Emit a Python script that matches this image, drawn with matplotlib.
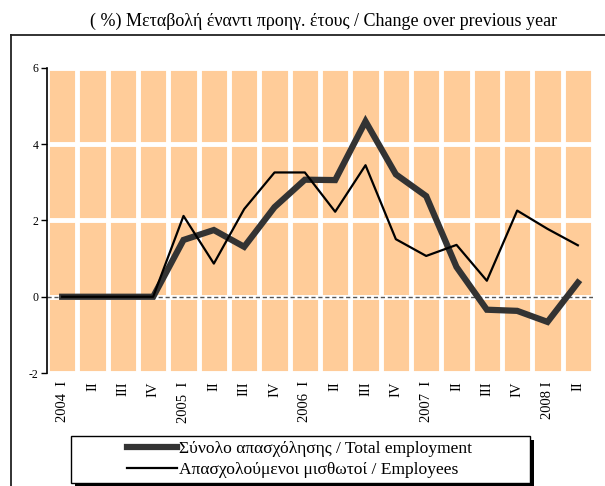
import matplotlib.pyplot as plt
from matplotlib.patches import Rectangle
from matplotlib.lines import Line2D

plt.rcParams['font.family'] = ['Liberation Serif', 'DejaVu Serif']

# quarters 2004 I .. 2008 II
quarters = ['2004  I', 'II', 'III', 'IV',
            '2005  I', 'II', 'III', 'IV',
            '2006  I', 'II', 'III', 'IV',
            '2007  I', 'II', 'III', 'IV',
            '2008 I', 'II']
total_employment = [0, 0, 0, 0, 1.49, 1.75, 1.31, 2.35, 3.07, 3.06,
                    4.6, 3.21, 2.64, 0.78, -0.34, -0.37, -0.66, 0.37]
employees = [0, 0, 0, 0, 2.12, 0.87, 2.3, 3.26, 3.26, 2.23,
             3.45, 1.51, 1.07, 1.36, 0.42, 2.26, 1.78, 1.35]

label_total = 'Σύνολο απασχόλησης / Total employment'
label_emp = 'Απασχολούμενοι μισθωτοί / Employees'

fig = plt.figure(figsize=(6.05, 4.86), dpi=100)
ax = fig.add_axes([0.0777, 0.2325, 0.9025, 0.6276])
ax.set_facecolor('#FFCC99')

x = list(range(len(quarters)))

# white separators between the columns and at the gridlines
for b in range(len(quarters) + 1):
    ax.axvline(b - 0.5, color='white', lw=3.5, zorder=1)
for g in [-2, 0, 2, 4, 6]:
    ax.axhline(g, color='white', lw=3.5, zorder=1)
ax.axhline(0, color='#555555', lw=1.0, ls=(0, (3, 2)), zorder=2)

ax.plot(x, total_employment, color='#333333', lw=4.5, zorder=3,
        solid_joinstyle='miter')
ax.plot(x, employees, color='black', lw=1.6, zorder=4)

ax.set_xlim(-0.5, len(quarters) - 0.5)
ax.set_ylim(-2, 6)
ax.set_yticks([-2, 0, 2, 4, 6])
ax.set_yticklabels(['-2', '0', '2', '4', '6'], fontsize=8.5)
ax.set_xticks(x)
ax.set_xticklabels(quarters, rotation=90, fontsize=10.5, va='top', ha='center')
ax.tick_params(axis='x', length=0, pad=6)
ax.tick_params(axis='y', length=4, width=1, direction='out', pad=2)
for s in ['top', 'right', 'bottom']:
    ax.spines[s].set_visible(False)
ax.spines['left'].set_linewidth(1.2)

fig.text(0.535, 0.957, '( %) Μεταβολή έναντι προηγ. έτους / Change over previous year',
         ha='center', va='center', fontsize=13)

# outer frame (top and left edges visible)
W, H = 605, 486
fig.add_artist(Line2D([11 / W, 11 / W], [0, 1 - 35 / H], color='#222222', lw=1.3))
fig.add_artist(Line2D([11 / W, 1], [1 - 35 / H, 1 - 35 / H], color='#222222', lw=1.3))

# legend box with shadow
bx0, by0, bx1, by1 = 71, 436, 530, 483
fig.add_artist(Rectangle(((bx0 + 4) / W, 1 - (by1 + 4) / H), (bx1 - bx0) / W, (by1 - by0) / H,
                         facecolor='black', edgecolor='none'))
fig.add_artist(Rectangle((bx0 / W, 1 - by1 / H), (bx1 - bx0) / W, (by1 - by0) / H,
                         facecolor='white', edgecolor='black', lw=1.0))
h1 = Line2D([], [], color='#333333', lw=4.5)
h2 = Line2D([], [], color='black', lw=1.6)
fig.legend([h1, h2], [label_total, label_emp], loc='center',
           bbox_to_anchor=((bx0 + bx1) / 2 / W - 0.002, 1 - (by0 + by1) / 2 / H),
           frameon=False, fontsize=12.6, handlelength=2.9, handletextpad=0.1,
           labelspacing=0.3, borderpad=0)

fig.savefig('out.png', dpi=100)
